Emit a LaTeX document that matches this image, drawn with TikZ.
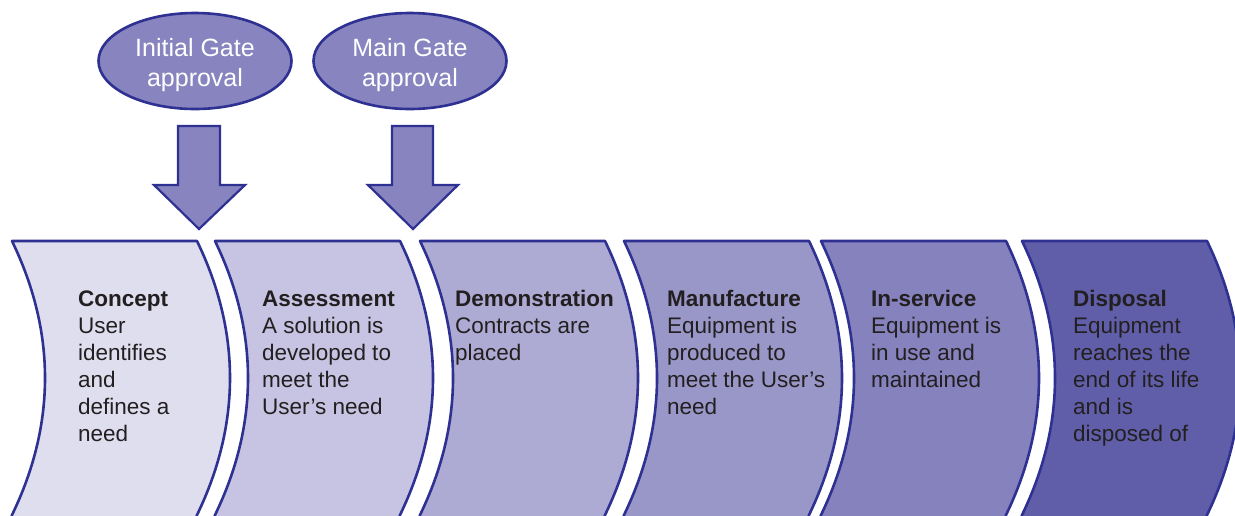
\documentclass[tikz,border=0pt]{standalone}
\usepackage{fontspec}
\setmainfont{Liberation Sans}
\usetikzlibrary{shapes.geometric}
\definecolor{edge}{HTML}{2E3192}
\definecolor{phaseA}{HTML}{DFDEEF}
\definecolor{phaseB}{HTML}{C6C4E2}
\definecolor{phaseC}{HTML}{ADABD4}
\definecolor{phaseD}{HTML}{9996C8}
\definecolor{phaseE}{HTML}{8582BD}
\definecolor{phaseF}{HTML}{605EA9}
\definecolor{gatefill}{HTML}{8784BF}
\definecolor{ink}{HTML}{231F20}
\tikzset{
  phase/.style={draw=edge, line width=2.6pt, line join=round},
  gate/.style={ellipse, draw=edge, line width=2.6pt, fill=gatefill,
    minimum width=193pt, minimum height=96pt, inner sep=0pt,
    text=white, font=\fontsize{25}{30}\selectfont},
  gatearrow/.style={draw=edge, line width=2.2pt, fill=gatefill, line join=miter},
  phasetext/.style={anchor=base west, inner sep=0pt, text=ink,
    font=\fontsize{22.5}{27}\selectfont}
}
% one curved phase band: left top x, fill colour, name of its top right corner
\newcommand{\phaseband}[3]{%
  \path[phase, fill=#2] (#1-4,530) -- (#1,515)
    .. controls (#1+44,424) and (#1+44,332) .. (#1,241)
    -- (#1+185,241) .. controls (#1+229,332) and (#1+229,424) .. (#1+185,515)
    -- (#1+181,530) -- cycle;
  \coordinate (#3) at (#1+185,241);
}
\newcommand{\phaselines}[1]{\begin{tabular}[t]{@{}l@{}}#1\end{tabular}}
% gate text sits a little below the ellipse centre
\newcommand{\gatelines}[1]{\raisebox{-4pt}[\height][\depth]{\begin{tabular}{@{}c@{}}#1\end{tabular}}}
\begin{document}
\begin{tikzpicture}[x=1pt, y=-1pt]
  \useasboundingbox (0,0) rectangle (1235,515);
  \begin{scope}
    \clip (0,0) rectangle (1235,515);
    \phaseband{12}{phaseA}{pA}
    \phaseband{215}{phaseB}{pB}
    \phaseband{420}{phaseC}{pC}
    \phaseband{624}{phaseD}{pD}
    \phaseband{821}{phaseE}{pE}
    \phaseband{1022}{phaseF}{pF}
  \end{scope}

  \node[phasetext] (concept) at (78,306)
    {\phaselines{\textbf{Concept}\\User\\identifies\\and\\defines a\\need}};
  \node[phasetext] (assess) at (262,306)
    {\phaselines{\textbf{Assessment}\\A solution is\\developed to\\meet the\\User’s need}};
  \node[phasetext] (demo) at (455,306)
    {\phaselines{\textbf{Demonstration}\\Contracts are\\placed}};
  \node[phasetext] (manuf) at (667,306)
    {\phaselines{\textbf{Manufacture}\\Equipment is\\produced to\\meet the User’s\\need}};
  \node[phasetext] (inserv) at (871,306)
    {\phaselines{\textbf{In-service}\\Equipment is\\in use and\\maintained}};
  \node[phasetext] (dispose) at (1073,306)
    {\phaselines{\textbf{Disposal}\\Equipment\\reaches the\\end of its life\\and is\\disposed of}};

  \node[gate] (initial) at (195,61) {\gatelines{Initial Gate\\approval}};
  \node[gate] (main) at (410,61) {\gatelines{Main Gate\\approval}};

  % block arrows from the gates down onto the phase bands
  \coordinate (tipA) at (199,229);
  \coordinate (tipB) at (413,229);
  \path[gatearrow] (178,126) -- (220,126) -- (220,185) -- (245,185) -- (tipA)
    -- (154,185) -- (178,185) -- cycle;
  \path[gatearrow] (392,126) -- (433,126) -- (433,185) -- (458,185) -- (tipB)
    -- (368,185) -- (392,185) -- cycle;
\end{tikzpicture}
\end{document}
